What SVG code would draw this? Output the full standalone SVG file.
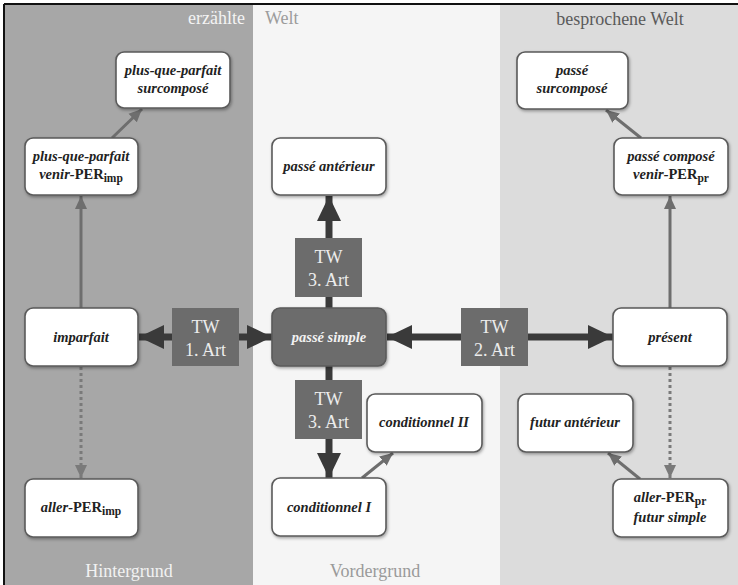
<svg xmlns="http://www.w3.org/2000/svg" width="738" height="585" viewBox="0 0 738 585">
<defs>
<style>
.node rect{fill:#fff;stroke:#5a5a5a;stroke-width:1.6}
.node text,.main text{font-family:"Liberation Serif",serif;font-style:italic;font-weight:bold;font-size:14.5px;fill:#222;text-anchor:middle}
.main rect{fill:#6c6c6c;stroke:#5a5a5a;stroke-width:1.6}
.main text{fill:#f2f2f2}
.up{font-style:normal}
.tw rect{fill:#6c6c6c}
.tw text{font-family:"Liberation Serif",serif;font-size:18px;fill:#ececec;text-anchor:middle}
.thin{stroke:#6e6e6e;stroke-width:3;fill:none}
.dot{stroke:#7a7a7a;stroke-width:3;fill:none;stroke-dasharray:3 3}
.thick{stroke:#3a3a3a;stroke-width:7;fill:none}
.lbl{font-family:"Liberation Serif",serif;font-size:18px}
</style>
<marker id="ah" markerUnits="userSpaceOnUse" markerWidth="14" markerHeight="14" refX="13" refY="7" orient="auto"><path d="M0,1 L13,7 L0,13 Z" fill="#6e6e6e"/></marker>
<marker id="ahd" markerUnits="userSpaceOnUse" markerWidth="14" markerHeight="14" refX="13" refY="7" orient="auto"><path d="M0,1 L13,7 L0,13 Z" fill="#7a7a7a"/></marker>
<marker id="big" markerUnits="userSpaceOnUse" markerWidth="26" markerHeight="26" refX="25" refY="13" orient="auto"><path d="M0,1 L25,13 L0,25 Z" fill="#3a3a3a"/></marker>
<filter id="sh" x="-10%" y="-10%" width="130%" height="130%"><feDropShadow dx="1" dy="1.5" stdDeviation="1.5" flood-color="#000" flood-opacity="0.35"/></filter>
</defs>

<g id="background">
<rect x="0" y="0" width="738" height="585" fill="#fff"/>
<rect x="4" y="4" width="249" height="581" fill="#a7a7a7"/>
<rect x="253" y="4" width="247" height="581" fill="#f5f5f5"/>
<rect x="500" y="4" width="238" height="581" fill="#dcdcdc"/>
<line x1="4" y1="4" x2="738" y2="4" stroke="#111" stroke-width="2"/>
<line x1="4" y1="4" x2="4" y2="585" stroke="#111" stroke-width="2"/>
<text class="lbl" x="245" y="24" text-anchor="end" fill="#f4f4f4">erzählte</text>
<text class="lbl" x="265" y="24" fill="#9c9c9c">Welt</text>
<text class="lbl" x="620" y="25" text-anchor="middle" fill="#5a5a5a">besprochene Welt</text>
<text class="lbl" x="129" y="577" text-anchor="middle" fill="#f2f2f2">Hintergrund</text>
<text class="lbl" x="375" y="577" text-anchor="middle" fill="#9a9a9a">Vordergrund</text>
</g>

<g id="connectors">
<line class="thin" x1="81" y1="308" x2="81" y2="196" marker-end="url(#ah)"/>
<line class="thin" x1="112" y1="138" x2="142" y2="109" marker-end="url(#ah)"/>
<line class="dot" x1="81" y1="367" x2="81" y2="478" marker-end="url(#ahd)"/>
<line class="thick" x1="172" y1="337" x2="139" y2="337" marker-end="url(#big)"/>
<line class="thick" x1="239" y1="337" x2="272" y2="337" marker-end="url(#big)"/>
<line class="thick" x1="461" y1="337" x2="387" y2="337" marker-end="url(#big)"/>
<line class="thick" x1="528" y1="337" x2="613" y2="337" marker-end="url(#big)"/>
<line class="thick" x1="329" y1="308" x2="329" y2="297"/>
<line class="thick" x1="329" y1="238" x2="329" y2="196" marker-end="url(#big)"/>
<line class="thick" x1="329" y1="366" x2="329" y2="380"/>
<line class="thick" x1="329" y1="439" x2="329" y2="478" marker-end="url(#big)"/>
<line class="thin" x1="362" y1="478" x2="393" y2="453" marker-end="url(#ah)"/>
<line class="thin" x1="670" y1="308" x2="670" y2="196" marker-end="url(#ah)"/>
<line class="thin" x1="641" y1="138" x2="606" y2="110" marker-end="url(#ah)"/>
<line class="dot" x1="670" y1="367" x2="670" y2="478" marker-end="url(#ahd)"/>
<line class="thin" x1="640" y1="479" x2="608" y2="453" marker-end="url(#ah)"/>
</g>

<g id="n-pqp-surcompose" class="node"><rect x="116" y="52" width="114" height="56" rx="8" filter="url(#sh)"/><text x="173" y="75">plus-que-parfait</text><text x="173" y="93">surcomposé</text></g>
<g id="n-pqp-venir" class="node"><rect x="25" y="138" width="113" height="57" rx="8" filter="url(#sh)"/><text x="81" y="161">plus-que-parfait</text><text x="81" y="179">venir-<tspan class="up">PER</tspan><tspan class="up" font-size="11.5" dy="3">imp</tspan></text></g>
<g id="n-passe-anterieur" class="node"><rect x="272" y="138" width="114" height="57" rx="8" filter="url(#sh)"/><text x="329" y="171">passé antérieur</text></g>
<g id="n-passe-surcompose" class="node"><rect x="517" y="52" width="111" height="57" rx="8" filter="url(#sh)"/><text x="572" y="75">passé</text><text x="572" y="93">surcomposé</text></g>
<g id="n-passe-compose" class="node"><rect x="614" y="138" width="114" height="57" rx="8" filter="url(#sh)"/><text x="671" y="161">passé composé</text><text x="671" y="179">venir-<tspan class="up">PER</tspan><tspan class="up" font-size="11.5" dy="3">pr</tspan></text></g>
<g id="n-imparfait" class="node"><rect x="25" y="308" width="113" height="58" rx="8" filter="url(#sh)"/><text x="81" y="342">imparfait</text></g>
<g id="n-passe-simple" class="main"><rect x="272" y="308" width="114" height="58" rx="8" filter="url(#sh)"/><text x="329" y="342">passé simple</text></g>
<g id="n-present" class="node"><rect x="613" y="308" width="114" height="58" rx="8" filter="url(#sh)"/><text x="670" y="342">présent</text></g>
<g id="n-conditionnel-2" class="node"><rect x="367" y="394" width="115" height="58" rx="8" filter="url(#sh)"/><text x="424" y="427">conditionnel II</text></g>
<g id="n-conditionnel-1" class="node"><rect x="272" y="478" width="114" height="58" rx="8" filter="url(#sh)"/><text x="329" y="512">conditionnel I</text></g>
<g id="n-futur-anterieur" class="node"><rect x="518" y="394" width="115" height="58" rx="8" filter="url(#sh)"/><text x="575" y="427">futur antérieur</text></g>
<g id="n-aller-pr" class="node"><rect x="613" y="479" width="115" height="58" rx="8" filter="url(#sh)"/><text x="670" y="502">aller-<tspan class="up">PER</tspan><tspan class="up" font-size="11.5" dy="3">pr</tspan></text><text x="670" y="522">futur simple</text></g>
<g id="n-aller-imp" class="node"><rect x="25" y="479" width="113" height="58" rx="8" filter="url(#sh)"/><text x="81" y="512">aller-<tspan class="up">PER</tspan><tspan class="up" font-size="11.5" dy="3">imp</tspan></text></g>

<g id="tw1" class="tw"><rect x="172" y="308" width="67" height="58"/><text x="205.5" y="333">TW</text><text x="205.5" y="356">1. Art</text></g>
<g id="tw2" class="tw"><rect x="461" y="308" width="67" height="58"/><text x="494.5" y="333">TW</text><text x="494.5" y="356">2. Art</text></g>
<g id="tw3a" class="tw"><rect x="295" y="238" width="67" height="59"/><text x="328.5" y="263">TW</text><text x="328.5" y="286">3. Art</text></g>
<g id="tw3b" class="tw"><rect x="295" y="380" width="67" height="59"/><text x="328.5" y="405">TW</text><text x="328.5" y="428">3. Art</text></g>
</svg>
